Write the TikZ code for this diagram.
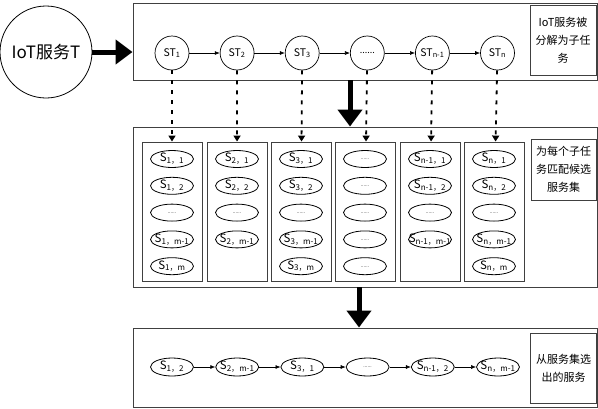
\documentclass[tikz,border=0pt]{standalone}
\usepackage{fontspec}
\setmainfont{Noto Sans CJK SC}
\usetikzlibrary{shapes,arrows.meta,positioning}

\newcommand{\svc}[2]{\makebox[0pt]{S\textsubscript{#1，#2}}}
\newcommand{\etc}{\makebox[0pt]{\raisebox{-2pt}{\tiny ......}}}

\begin{document}
\begin{tikzpicture}[
    x=1pt, y=-1pt,
    node distance=9pt and 21.4pt,
    frame/.style={rectangle, draw=black!75, line width=0.9pt},
    note/.style={rectangle, draw=black!75, line width=0.9pt, align=center, minimum width=66pt, font=\fontsize{11}{18}\selectfont},
    task/.style={circle, draw, line width=0.7pt, minimum size=34pt, inner sep=0pt, font=\fontsize{10.5}{12}\selectfont},
    column/.style={rectangle, draw=black!75, line width=0.9pt, minimum width=60pt, minimum height=139pt},
    svc/.style={ellipse, draw, line width=0.8pt, minimum width=43pt, minimum height=17pt, inner sep=0pt, font=\fontsize{11.5}{12}\selectfont},
    link/.style={-{Latex[length=5pt,width=4pt]}, line width=0.6pt},
    dotlink/.style={dash pattern=on 4pt off 6pt, line width=1.8pt, -{Triangle[length=6pt,width=7pt]}},
    bigarrow/.style={line width=5pt, -{Triangle[length=17pt,width=24pt]}}
]
\useasboundingbox (0,0) rectangle (598,408);

% 输入
\node[circle, draw, line width=0.8pt, minimum size=92pt, inner sep=0pt, font=\fontsize{17}{20}\selectfont] (iot) at (46,52) {IoT服务T};

% 子任务分解
\node[frame, minimum width=464pt, minimum height=77pt] (top) at (365,41.5) {};
\node[note, minimum height=70pt] (note1) at (563,40) {IoT服务被\\分解为子任\\务};

\node[task] (st1) at (172,53) {ST\textsubscript{1}};
\node[task, right=30.4pt of st1] (st2) {ST\textsubscript{2}};
\node[task, right=30.4pt of st2] (st3) {ST\textsubscript{3}};
\node[task, right=30.4pt of st3] (st4) {\small ......};
\node[task, right=30.4pt of st4] (st5) {ST\textsubscript{n-1}};
\node[task, right=30.4pt of st5] (st6) {ST\textsubscript{n}};

\draw[link] (st1) -- (st2);
\draw[link] (st2) -- (st3);
\draw[link] (st3) -- (st4);
\draw[link] (st4) -- (st5);
\draw[link] (st5) -- (st6);

\draw[bigarrow] (iot) -- (iot -| top.west);

% 候选服务集
\node[frame, minimum width=464pt, minimum height=160pt] (mid) at (365,207) {};
\node[note, minimum width=65pt, minimum height=61pt] (note2) at (563.5,169.5) {为每个子任\\务匹配候选\\服务集};

\node[column] (col1) at (172,211.5) {};
\node[column] (col2) at (237,211.5) {};
\node[column] (col3) at (301,211.5) {};
\node[column] (col4) at (365,211.5) {};
\node[column] (col5) at (430,211.5) {};
\node[column] (col6) at (494,211.5) {};

\node[svc] (s11) at (172,159) {\svc{1}{1}};
\node[svc, below=of s11] (s12) {\svc{1}{2}};
\node[svc, below=of s12] (s1d) {\etc};
\node[svc, below=of s1d] (s1m1) {\svc{1}{m-1}};
\node[svc, below=of s1m1] (s1m) {\svc{1}{m}};

\node[svc] (s21) at (237,159) {\svc{2}{1}};
\node[svc, below=of s21] (s22) {\svc{2}{2}};
\node[svc, below=of s22] (s2d) {\etc};
\node[svc, below=of s2d] (s2m1) {\svc{2}{m-1}};

\node[svc] (s31) at (301,159) {\svc{3}{1}};
\node[svc, below=of s31] (s32) {\svc{3}{2}};
\node[svc, below=of s32] (s3d) {\etc};
\node[svc, below=of s3d] (s3m1) {\svc{3}{m-1}};
\node[svc, below=of s3m1] (s3m) {\svc{3}{m}};

\node[svc] (d1) at (365,159) {\etc};
\node[svc, below=of d1] (d2) {\etc};
\node[svc, below=of d2] (d3) {\etc};
\node[svc, below=of d3] (d4) {\etc};
\node[svc, below=of d4] (d5) {\etc};

\node[svc] (s51) at (430,159) {\svc{n-1}{1}};
\node[svc, below=of s51] (s52) {\svc{n-1}{2}};
\node[svc, below=of s52] (s5d) {\etc};
\node[svc, below=of s5d] (s5m1) {\svc{n-1}{m-1}};

\node[svc] (s61) at (494,159) {\svc{n}{1}};
\node[svc, below=of s61] (s62) {\svc{n}{2}};
\node[svc, below=of s62] (s6d) {\etc};
\node[svc, below=of s6d] (s6m1) {\svc{n}{m-1}};
\node[svc, below=of s6m1] (s6m) {\svc{n}{m}};

\draw[dotlink] (st1) -- (col1);
\draw[dotlink] (st2) -- (col2);
\draw[dotlink] (st3) -- (col3);
\draw[dotlink] (st4) -- (col4);
\draw[dotlink] (st5) -- (col5);
\draw[dotlink] (st6) -- (col6);

\coordinate (down1) at (350,80);
\draw[bigarrow] (down1) -- (down1 |- mid.north);

% 选出的服务
\node[frame, minimum width=464pt, minimum height=79pt] (bot) at (365,367.5) {};
\node[note, minimum height=70pt] (note3) at (563.5,368) {从服务集选\\出的服务};

\node[svc, minimum height=18pt] (c1) at (172,367) {\svc{1}{2}};
\node[svc, minimum height=18pt, right=of c1] (c2) {\svc{2}{m-1}};
\node[svc, minimum height=18pt, right=of c2] (c3) {\svc{3}{1}};
\node[svc, minimum height=18pt, right=of c3] (c4) {\etc};
\node[svc, minimum height=18pt, right=of c4] (c5) {\svc{n-1}{2}};
\node[svc, minimum height=18pt, right=of c5] (c6) {\svc{n}{m-1}};

\draw[link] (c1) -- (c2);
\draw[link] (c2) -- (c3);
\draw[link] (c3) -- (c4);
\draw[link] (c4) -- (c5);
\draw[link] (c5) -- (c6);

\coordinate (down2) at (359,287);
\draw[bigarrow] (down2) -- (down2 |- bot.north);

\end{tikzpicture}
\end{document}
